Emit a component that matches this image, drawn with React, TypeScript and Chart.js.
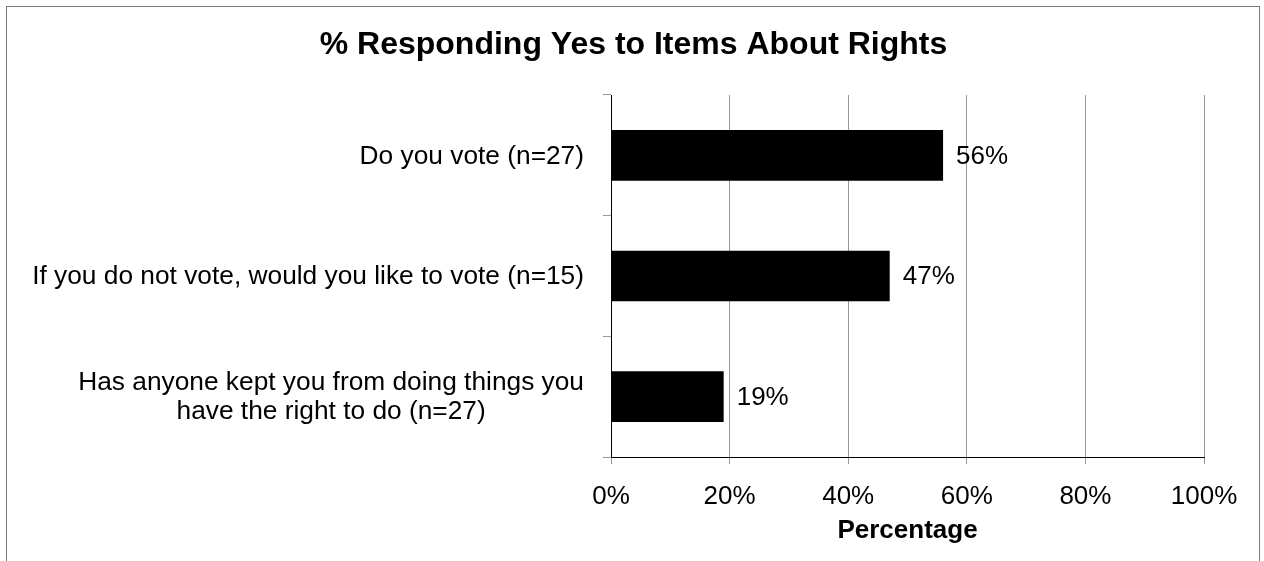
import React, { useEffect, useRef } from "react";
import { Chart, registerables } from "chart.js";

Chart.register(...registerables);

const chartTitle = "% Responding Yes to Items About Rights";
const categories: string[][] = [
  ["Do you vote (n=27)"],
  ["If you do not vote, would you like to vote (n=15)"],
  ["Has anyone kept you from doing things you", "have the right to do (n=27)"],
];
const values: number[] = [56, 47, 19];
const xTickStep = 20;
const xMin = 0;
const xMax = 100;
const xAxisTitle = "Percentage";

const FONT = "'Liberation Sans', Arial, Helvetica, sans-serif";

const textPlugin = {
  id: "textPlugin",
  beforeDraw(chart: any) {
    const ctx = chart.ctx;
    ctx.save();
    ctx.fillStyle = "#ffffff";
    ctx.fillRect(0, 0, chart.width, chart.height);
    ctx.strokeStyle = "#7a7a7a";
    ctx.lineWidth = 1;
    ctx.strokeRect(6.5, 6.5, 1253, 700);
    ctx.restore();
  },
  afterDraw(chart: any) {
    const ctx = chart.ctx;
    const xs = chart.scales.x;
    const ys = chart.scales.y;
    ctx.save();
    // title
    ctx.fillStyle = "#000";
    ctx.font = `bold 32px ${FONT}`;
    ctx.textAlign = "center";
    ctx.textBaseline = "middle";
    ctx.fillText(chartTitle, 633.5, 45);

    // category labels
    ctx.font = `26.3px ${FONT}`;
    const rightEdge = ys.left + ys.width - 27;
    const lineH = 29;
    categories.forEach((lines, i) => {
      const cy = ys.getPixelForTick(i);
      const maxW = Math.max(...lines.map((l) => ctx.measureText(l).width));
      const cx = rightEdge - maxW / 2;
      const startY = cy - ((lines.length - 1) * lineH) / 2 + 1;
      lines.forEach((l, j) => {
        ctx.textAlign = "center";
        ctx.fillText(l, cx, startY + j * lineH);
      });
    });

    // data labels
    ctx.font = `26px ${FONT}`;
    ctx.textAlign = "left";
    values.forEach((v, i) => {
      const x = xs.getPixelForValue(v) + 13;
      const y = ys.getPixelForValue(i);
      ctx.fillText(`${v}%`, x, y + 1);
    });
    ctx.restore();
  },
};

export default function App() {
  const ref = useRef<HTMLCanvasElement | null>(null);

  useEffect(() => {
    if (!ref.current) return;
    const chart = new Chart(ref.current, {
      type: "bar",
      data: {
        labels: categories.map((c) => c.join(" ")),
        datasets: [
          {
            data: values,
            backgroundColor: "#000000",
            borderWidth: 0,
            barPercentage: 0.42,
            categoryPercentage: 1,
          },
        ],
      },
      options: {
        indexAxis: "y",
        responsive: false,
        animation: false,
        layout: { padding: { top: 95, right: 60, left: 0, bottom: 0 } },
        plugins: {
          legend: { display: false },
          title: { display: false },
          tooltip: { enabled: false },
        },
        scales: {
          x: {
            min: xMin,
            max: xMax,
            ticks: {
              stepSize: xTickStep,
              callback: (v: any) => `${v}%`,
              font: { family: FONT, size: 26 },
              color: "#000",
              padding: 17,
              maxRotation: 0,
            },
            grid: { color: "#999999", tickLength: 7, drawTicks: true, lineWidth: 1 },
            border: { color: "#000000", width: 1 },
            title: {
              display: true,
              text: xAxisTitle,
              font: { family: FONT, size: 26, weight: "bold" },
              color: "#000",
              padding: { top: 0, bottom: 15 },
            },
            afterFit: (s: any) => {
              s.height = 104;
            },
          },
          y: {
            ticks: { display: false },
            grid: {
              drawOnChartArea: false,
              tickLength: 8,
              color: "#999999",
              offset: true,
            },
            border: { color: "#000000", width: 1 },
            afterFit: (s: any) => {
              s.width = 611;
            },
          },
        },
      },
      plugins: [textPlugin],
    } as any);
    return () => chart.destroy();
  }, []);

  return (
    <div style={{ position: "absolute", left: 0, top: 0, width: 1264, height: 561 }}>
      <canvas ref={ref} width={1264} height={561} style={{ display: "block" }} />
    </div>
  );
}
